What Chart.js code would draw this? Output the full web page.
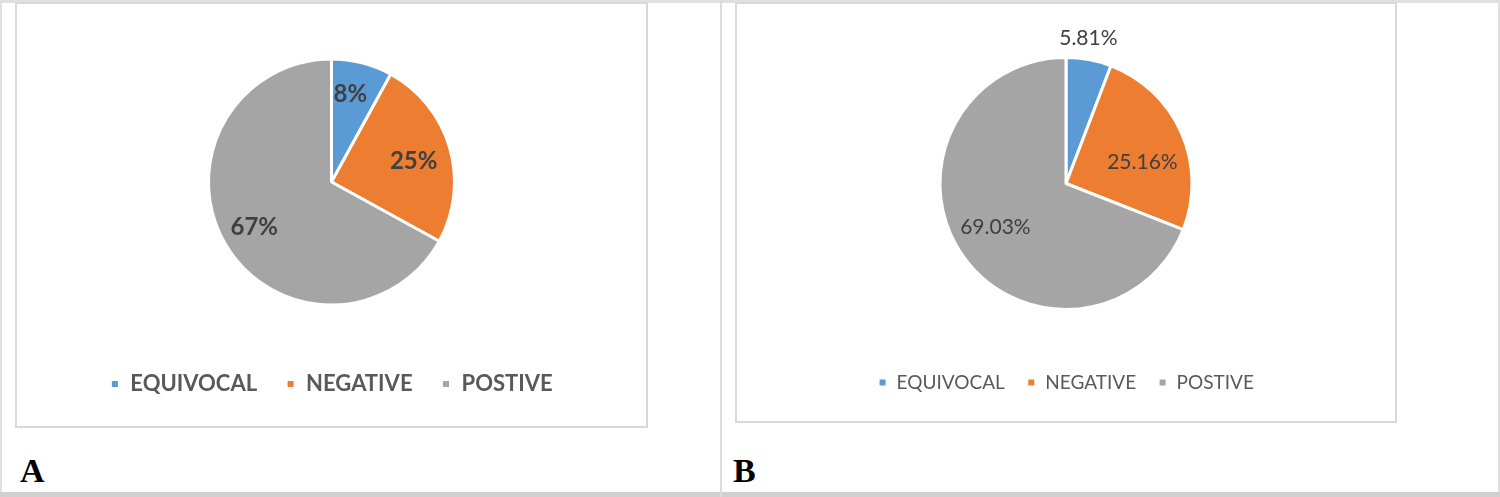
<!DOCTYPE html>
<html>
<head>
<meta charset="utf-8">
<script src="https://cdn.jsdelivr.net/npm/chart.js@4.4.1/dist/chart.umd.min.js"></script>
<style>
  html, body { margin: 0; padding: 0; background: #fff; }
  #page { position: relative; width: 1500px; height: 497px; overflow: hidden; }
  .frame-top { position: absolute; left: 0; top: 0; width: 1500px; height: 3px; background: #e0e0e0; }
  .frame-left { position: absolute; left: 0; top: 0; width: 2px; height: 497px; background: #e0e0e0; }
  .frame-right { position: absolute; left: 1498px; top: 0; width: 2px; height: 497px; background: #e0e0e0; }
  .frame-bottom { position: absolute; left: 0; top: 492px; width: 1500px; height: 5px; background: #d0d0d0; }
  .divider { position: absolute; left: 720px; top: 0; width: 2px; height: 497px; background: #dcdcdc; }
  .box { position: absolute; border: 2px solid #d9d9d9; box-sizing: border-box; }
  #boxA { left: 15px; top: 2px; width: 633px; height: 426px; }
  #boxB { left: 735px; top: 2px; width: 662px; height: 421px; }
  .box canvas { position: absolute; left: 0; top: 0; }
  .panel-letter { position: absolute; top: 454px; font: bold 34px "Liberation Serif", "Times New Roman", serif; line-height: 34px; color: #000; }
</style>
</head>
<body>
<div id="page">
  <div class="frame-top"></div>
  <div class="frame-left"></div>
  <div class="frame-right"></div>
  <div class="frame-bottom"></div>
  <div class="divider"></div>
  <div class="box" id="boxA"><canvas id="chartA" width="629" height="422"></canvas></div>
  <div class="box" id="boxB"><canvas id="chartB" width="658" height="417"></canvas></div>
  <div class="panel-letter" style="left:20px;">A</div>
  <div class="panel-letter" style="left:733px;">B</div>
</div>
<script>
/* data */
const categories = ["EQUIVOCAL", "NEGATIVE", "POSTIVE"];
const valuesA = [8, 25, 67];
const valuesB = [5.81, 25.16, 69.03];
const labelsA = ["8%", "25%", "67%"];
const labelsB = ["5.81%", "25.16%", "69.03%"];
const sliceColors = ["#5B9BD5", "#ED7D31", "#A5A5A5"];

/* draws the percent labels along each slice's middle angle */
const sliceLabels = {
    id: "sliceLabels",
    afterDatasetsDraw(chart, args, opts) {
        const ctx = chart.ctx;
        const meta = chart.getDatasetMeta(0);
        ctx.save();
        ctx.font = opts.font;
        ctx.fillStyle = opts.color;
        ctx.textAlign = "center";
        ctx.textBaseline = "middle";
        meta.data.forEach((arc, i) => {
            const p = arc.getProps(["x", "y", "startAngle", "endAngle", "outerRadius"], true);
            const mid = (p.startAngle + p.endAngle) / 2 + opts.turns[i];
            const d = p.outerRadius * opts.factors[i];
            ctx.fillText(opts.texts[i], p.x + Math.cos(mid) * d, p.y + Math.sin(mid) * d);
        });
        ctx.restore();
    }
};

function makePie(id, values, texts, cfg) {
    return new Chart(document.getElementById(id), {
        type: "pie",
        data: {
            labels: categories,
            datasets: [{
                data: values,
                backgroundColor: sliceColors,
                borderColor: "#ffffff",
                borderWidth: 3,
                radius: cfg.radius
            }]
        },
        options: {
            responsive: false,
            animation: false,
            layout: { padding: { top: cfg.padTop, bottom: cfg.padBottom } },
            plugins: {
                tooltip: { enabled: false },
                legend: {
                    position: "bottom",
                    labels: {
                        boxWidth: 9,
                        boxHeight: 9,
                        padding: cfg.legendPad,
                        color: "#595959",
                        font: { family: "Lato", size: cfg.legendSize, weight: cfg.weight }
                    }
                },
                sliceLabels: {
                    font: cfg.labelFont,
                    color: cfg.labelColor,
                    texts: texts,
                    factors: cfg.factors,
                    turns: cfg.turns
                }
            }
        },
        plugins: [sliceLabels]
    });
}

makePie("chartA", valuesA, labelsA, {
    radius: 123, padTop: 16, padBottom: 21, legendPad: 29, legendSize: 22, weight: "bold",
    labelFont: "bold 24px Lato", labelColor: "#404040",
    factors: [0.73, 0.69, 0.73], turns: [-0.04, 0.03, 0]
});
makePie("chartB", valuesB, labelsB, {
    radius: 126, padTop: 12, padBottom: 19, legendPad: 22, legendSize: 19, weight: "normal",
    labelFont: "21px Lato", labelColor: "#404040",
    factors: [1.17, 0.63, 0.66], turns: [-0.03, 0.14, 0.04]
});
</script>
</body>
</html>
